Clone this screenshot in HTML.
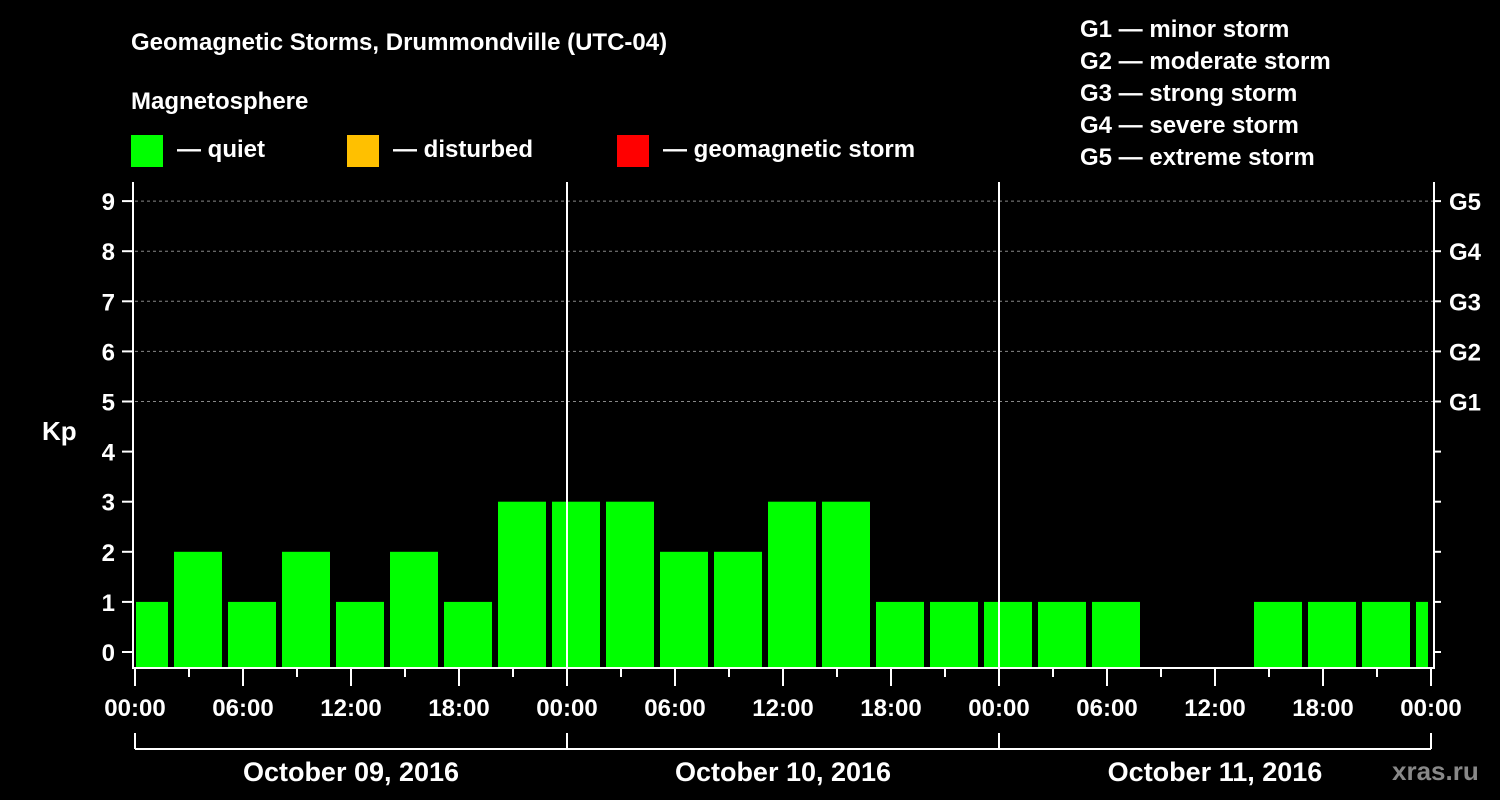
<!DOCTYPE html>
<html><head><meta charset="utf-8"><style>
body{margin:0;background:#000;}
svg{display:block;font-family:"Liberation Sans",sans-serif;font-weight:bold;}
</style></head><body>
<svg id="c" width="1500" height="800" xmlns="http://www.w3.org/2000/svg">
<rect width="1500" height="800" fill="#000"/>
<text x="131" y="50" fill="#fff" font-size="24">Geomagnetic Storms, Drummondville (UTC-04)</text>
<text x="131" y="109" fill="#fff" font-size="24">Magnetosphere</text>
<g><rect x="131" y="135" width="32" height="32" fill="#00ff00"/><text x="177" y="157" fill="#fff" font-size="24">— quiet</text></g>
<g><rect x="347" y="135" width="32" height="32" fill="#ffc000"/><text x="393" y="157" fill="#fff" font-size="24">— disturbed</text></g>
<g><rect x="617" y="135" width="32" height="32" fill="#ff0000"/><text x="663" y="157" fill="#fff" font-size="24">— geomagnetic storm</text></g>
<g fill="#fff" font-size="24">
<text x="1080" y="37">G1 — minor storm</text>
<text x="1080" y="69">G2 — moderate storm</text>
<text x="1080" y="101">G3 — strong storm</text>
<text x="1080" y="133">G4 — severe storm</text>
<text x="1080" y="165">G5 — extreme storm</text>
</g>
<text x="42" y="440" fill="#fff" font-size="26">Kp</text>
<text x="1392" y="780" fill="#888" font-size="26">xras.ru</text>
<g id="plot"></g>
</svg>
<script>
const kpValues=[1,2,1,2,1,2,1,3,3,3,2,2,3,3,1,1,1,1,1,null,null,1,1,1,1];
const barStartHours=[-1,2,5,8,11,14,17,20,23,26,29,32,35,38,41,44,47,50,53,56,59,62,65,68,71];
const yTicks=[0,1,2,3,4,5,6,7,8,9];
const gLabels=["G1","G2","G3","G4","G5"];
const dayLabels=["October 09, 2016","October 10, 2016","October 11, 2016"];
const hourLabels=["00:00","06:00","12:00","18:00"];
const NS="http://www.w3.org/2000/svg";
const g=document.getElementById('plot');
const X0=135,PXH=18,HOURS=72,Y0=652,PXU=50.1,BOT=668,TOP=182;
const x=h=>X0+h*PXH, y=v=>Y0-v*PXU;
function mk(t,a){const e=document.createElementNS(NS,t);for(const k in a)e.setAttribute(k,a[k]);g.appendChild(e);return e;}
// grid
for(let v=5;v<=9;v++){const l=mk('line',{x1:x(0),x2:x(HOURS)+3,y1:y(v),y2:y(v),stroke:'#888','stroke-dasharray':'3,3','stroke-width':1});

}
// bars
kpValues.forEach((v,i)=>{if(v===null)return;
const s=Math.max(barStartHours[i],0),e=Math.min(barStartHours[i]+3,HOURS);
const x1=barStartHours[i]<0?x(0)+1:x(s)+3,x2=x(e)-3;
const c=v>=5?'#ff0000':v>=4?'#ffc000':'#00ff00';
const r=mk('rect',{x:x1,y:y(v),width:x2-x1,height:BOT-y(v),fill:c});

});
// day lines
for(let d=1;d<3;d++){const l=mk('line',{x1:x(d*24),x2:x(d*24),y1:TOP,y2:BOT,stroke:'#fff','stroke-width':2});

}
// frame
const f=mk('path',{d:`M${X0-2},${TOP} V${BOT} H${x(HOURS)+3} V${TOP}`,fill:'none',stroke:'#fff','stroke-width':2});


// y ticks
yTicks.forEach(v=>{mk('line',{x1:122,x2:X0-2,y1:y(v),y2:y(v),stroke:'#fff','stroke-width':2});
mk('line',{x1:x(HOURS)+3,x2:x(HOURS)+10,y1:y(v),y2:y(v),stroke:'#fff','stroke-width':2});
const t=mk('text',{x:115,y:y(v)+9,fill:'#fff','font-size':24,'text-anchor':'end'});t.textContent=v;

});
gLabels.forEach((s,i)=>{const t=mk('text',{x:1449,y:y(5+i)+9,fill:'#fff','font-size':24});t.textContent=s;

});
// x ticks
for(let h=0;h<=HOURS;h+=3){const major=h%6===0;
mk('line',{x1:x(h),x2:x(h),y1:BOT,y2:major?686:677,stroke:'#fff','stroke-width':2});
if(major){const t=mk('text',{x:x(h),y:716,fill:'#fff','font-size':24,'text-anchor':'middle'});t.textContent=hourLabels[(h/6)%4];

}}
// bracket
mk('line',{x1:x(0),x2:x(HOURS),y1:749,y2:749,stroke:'#fff','stroke-width':2});
for(let d=0;d<=3;d++)mk('line',{x1:x(d*24),x2:x(d*24),y1:733,y2:749,stroke:'#fff','stroke-width':2});
dayLabels.forEach((s,d)=>{const t=mk('text',{x:x(d*24+12),y:781,fill:'#fff','font-size':27,'text-anchor':'middle'});t.textContent=s;

});
</script>
</body></html>
